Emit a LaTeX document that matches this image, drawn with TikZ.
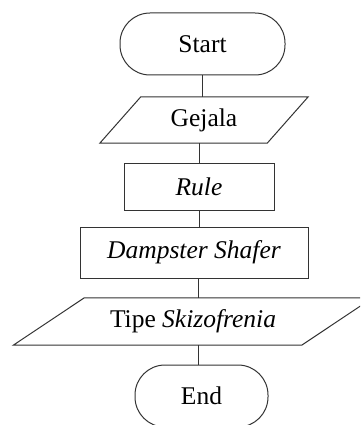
\documentclass[tikz,border=0pt]{standalone}
\usepackage{fontspec}
\setmainfont{Liberation Serif}
\usetikzlibrary{calc}
\tikzset{
  base/.style={inner sep=0pt, font=\fontsize{25.5}{30}\selectfont, text=black},
  term/.style={base, draw=black!80, line width=1pt, rounded corners=30pt},
  procbox/.style={base, draw=black!80, line width=1pt},
  iobox/.style={base},
  edge/.style={draw=black!80, line width=1pt},
}
\begin{document}
\begin{tikzpicture}[x=1pt,y=-1pt]
\fill[white] (0,0) rectangle (360,425);
\clip (0,0) rectangle (360,425);
\node[term, minimum width=165pt, minimum height=62pt] (s) at (202.5,44) {Start};
\node[iobox, minimum width=167pt, minimum height=46pt] (g) at (204,120) {Gejala};
\draw[edge] ([xshift=20.5pt]g.north west) -- ([xshift=20.5pt]g.north east)
  -- ([xshift=-20.5pt]g.south east) -- ([xshift=-20.5pt]g.south west) -- cycle;
\node[procbox, minimum width=150pt, minimum height=47pt] (r) at (199,186.5) {\itshape Rule};
\node[procbox, minimum width=228pt, minimum height=51pt] (d) at (194,252.5) {\itshape Dampster Shafer};
\node[iobox, minimum width=288pt, minimum height=47pt] (t) at (193,321.5) {Tipe \textit{Skizofrenia}};
\draw[edge] ([xshift=35.5pt]t.north west) -- ([xshift=35.5pt]t.north east)
  -- ([xshift=-35.5pt]t.south east) -- ([xshift=-35.5pt]t.south west) -- cycle;
\node[term, minimum width=133pt, minimum height=62pt] (e) at (201.5,396) {End};
\draw[edge] (s.south) -- (s.south |- g.north);
\draw[edge] (r.north |- g.south) -- (r.north);
\draw[edge] (r.south) -- (r.south |- d.north);
\draw[edge] ([xshift=4pt]d.south) -- ([xshift=4pt]d.south |- t.north);
\draw[edge] ([xshift=-3.5pt]e.north |- t.south) -- ([xshift=-3.5pt]e.north);
\end{tikzpicture}
\end{document}
